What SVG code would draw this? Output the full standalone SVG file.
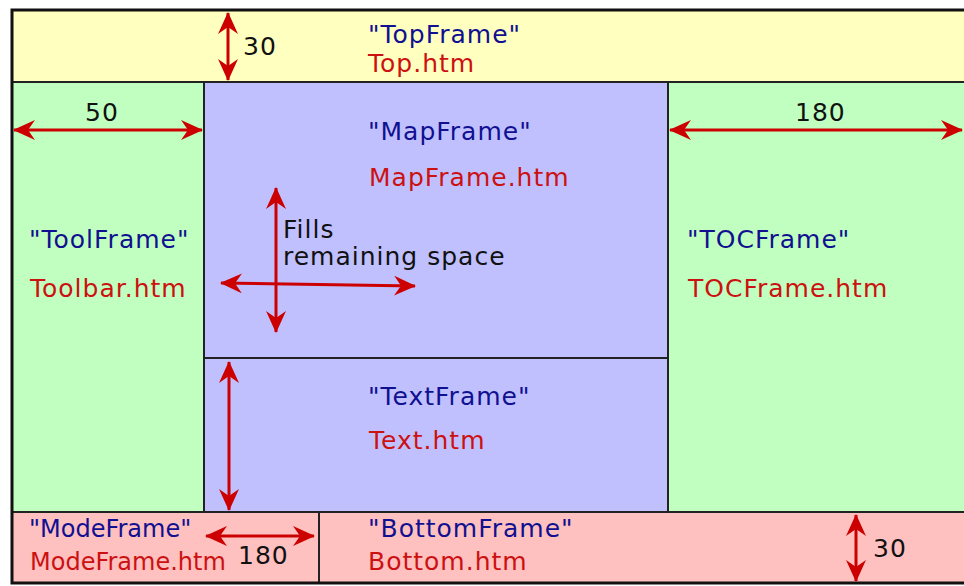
<svg xmlns="http://www.w3.org/2000/svg" width="964" height="586" viewBox="0 0 964 586">
<defs>
<marker id="ah" viewBox="0 0 22 20" refX="21" refY="10" markerWidth="22" markerHeight="20" markerUnits="userSpaceOnUse" orient="auto-start-reverse">
<path d="M0,0 L22,10 L0,20 L7,10 Z" fill="#cc0000"/>
</marker>
</defs>
<style>
.f{stroke:#222;stroke-width:2}
.t{font-family:"DejaVu Sans","Liberation Sans",sans-serif;font-size:25px;letter-spacing:1px}
.s{font-size:24px;letter-spacing:0}
.n{fill:#101090}
.h{fill:#cc1111}
.k{fill:#111}
.a{stroke:#cc0000;stroke-width:3;fill:none;marker-start:url(#ah);marker-end:url(#ah)}
</style>
<rect width="964" height="586" fill="#ffffff"/>
<g id="TopFrame">
<rect class="f" x="12" y="10" width="956" height="72" fill="#ffffc0"/>
<text class="t n" x="368" y="43">"TopFrame"</text>
<text class="t h" x="368" y="72">Top.htm</text>
<text class="t k" x="243" y="55">30</text>
</g>
<g id="ToolFrame">
<rect class="f" x="12" y="82" width="192" height="430" fill="#c0ffc0"/>
<text class="t k" x="85" y="121">50</text>
<text class="t n" x="29" y="248">"ToolFrame"</text>
<text class="t h" x="30" y="297">Toolbar.htm</text>
</g>
<g id="MapFrame">
<rect class="f" x="204" y="82" width="464" height="276" fill="#c0c0ff"/>
<text class="t n" x="368" y="140">"MapFrame"</text>
<text class="t h" x="369" y="186">MapFrame.htm</text>
<text class="t k" x="283" y="238">Fills</text>
<text class="t k" x="283" y="265">remaining space</text>
</g>
<g id="TextFrame">
<rect class="f" x="204" y="358" width="464" height="154" fill="#c0c0ff"/>
<text class="t n" x="368" y="405">"TextFrame"</text>
<text class="t h" x="369" y="449">Text.htm</text>
</g>
<g id="TOCFrame">
<rect class="f" x="668" y="82" width="300" height="430" fill="#c0ffc0"/>
<text class="t k" x="795" y="121">180</text>
<text class="t n" x="687" y="248">"TOCFrame"</text>
<text class="t h" x="688" y="297">TOCFrame.htm</text>
</g>
<g id="ModeFrame">
<rect class="f" x="12" y="512" width="307" height="71" fill="#ffc0c0"/>
<text class="t s n" x="29" y="537">"ModeFrame"</text>
<text class="t s h" x="30" y="570">ModeFrame.htm</text>
<text class="t k" x="238" y="564">180</text>
</g>
<g id="BottomFrame">
<rect class="f" x="319" y="512" width="649" height="71" fill="#ffc0c0"/>
<text class="t n" x="368" y="537">"BottomFrame"</text>
<text class="t h" x="368" y="570">Bottom.htm</text>
<text class="t k" x="873" y="557">30</text>
</g>
<path d="M964,10 H12 V583 H964" fill="none" stroke="#111" stroke-width="3"/>
<g id="connectors">
<line class="a" x1="228" y1="13" x2="228" y2="80"/>
<line class="a" x1="14" y1="130" x2="202" y2="130"/>
<line class="a" x1="670" y1="130" x2="962" y2="130"/>
<line class="a" x1="276" y1="188" x2="276" y2="332"/>
<line class="a" x1="221" y1="283" x2="415" y2="286"/>
<line class="a" x1="229" y1="362" x2="229" y2="510"/>
<line class="a" x1="206" y1="536" x2="314" y2="536"/>
<line class="a" x1="856" y1="515" x2="856" y2="581"/>
</g>
</svg>
